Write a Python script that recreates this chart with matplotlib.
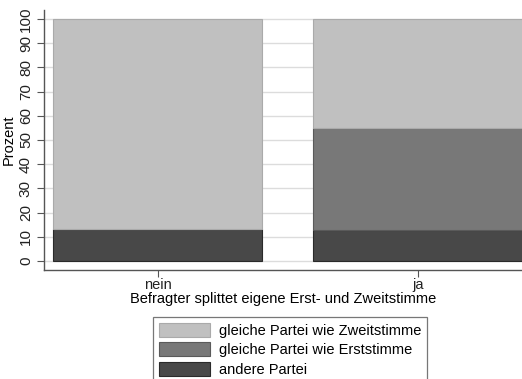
import numpy as np
import matplotlib.pyplot as plt

plt.rcParams['font.family'] = ['Liberation Sans', 'DejaVu Sans']

# Anteile in Prozent je Gruppe
gruppen = ['nein', 'ja']
andere_partei = [13.3, 12.8]
gleich_erststimme = [0.0, 42.0]
gleich_zweitstimme = [86.7, 45.2]

farben = ['#c0c0c0', '#787878', '#484848']
labels = ['gleiche Partei wie Zweitstimme', 'gleiche Partei wie Erststimme', 'andere Partei']

fig = plt.figure(figsize=(5.22, 3.79), dpi=100)
ax = fig.add_axes([44 / 522, 1 - 270 / 379, 1 - 44 / 522, 260 / 379])

x = np.arange(len(gruppen))
b = 0.804
unten = np.array(andere_partei)
mitte = unten + np.array(gleich_erststimme)

h3 = ax.bar(x, andere_partei, width=b, color=farben[2], edgecolor='#2a2a2a', linewidth=0.8, zorder=3)
h2 = ax.bar(x, gleich_erststimme, width=b, bottom=unten, color=farben[1], edgecolor='#5a5a5a', linewidth=0.8, zorder=3)
h1 = ax.bar(x, gleich_zweitstimme, width=b, bottom=mitte, color=farben[0], edgecolor='#aaaaaa', linewidth=0.8, zorder=3)

ax.set_xlim(-0.438, 1.4)
ax.set_ylim(-3.7, 103.7)
ax.set_yticks(np.arange(0, 101, 10))
ax.set_yticklabels([str(v) for v in range(0, 101, 10)], rotation=90, va='center', fontsize=11)
ax.set_xticks(x)
ax.set_xticklabels(gruppen, fontsize=10.5)
ax.yaxis.grid(True, color='#dcdcdc', linewidth=1.0, zorder=0)
ax.set_axisbelow(True)
for s in ['top', 'right']:
    ax.spines[s].set_visible(False)
for s in ['left', 'bottom']:
    ax.spines[s].set_color('#555555')
    ax.spines[s].set_linewidth(1.0)
ax.tick_params(axis='both', colors='#555555', labelcolor='#222222', length=5, width=0.8)
ax.tick_params(axis='y', pad=3)
ax.tick_params(axis='x', pad=1)

ax.set_ylabel('Prozent', fontsize=10.5, labelpad=2)
ax.set_xlabel('Befragter splittet eigene Erst- und Zweitstimme', fontsize=10.5, labelpad=0)

leg = fig.legend([h1, h2, h3], labels, loc='upper left', bbox_to_anchor=(153 / 522, 1 - 317 / 379),
                 fontsize=10.5, frameon=True, fancybox=False, edgecolor='#555555',
                 handlelength=3.5, handleheight=1.1, handletextpad=0.6, labelspacing=0.32,
                 borderpad=0.4, borderaxespad=0)
leg.get_frame().set_linewidth(0.9)

fig.savefig('out.png', dpi=100)
